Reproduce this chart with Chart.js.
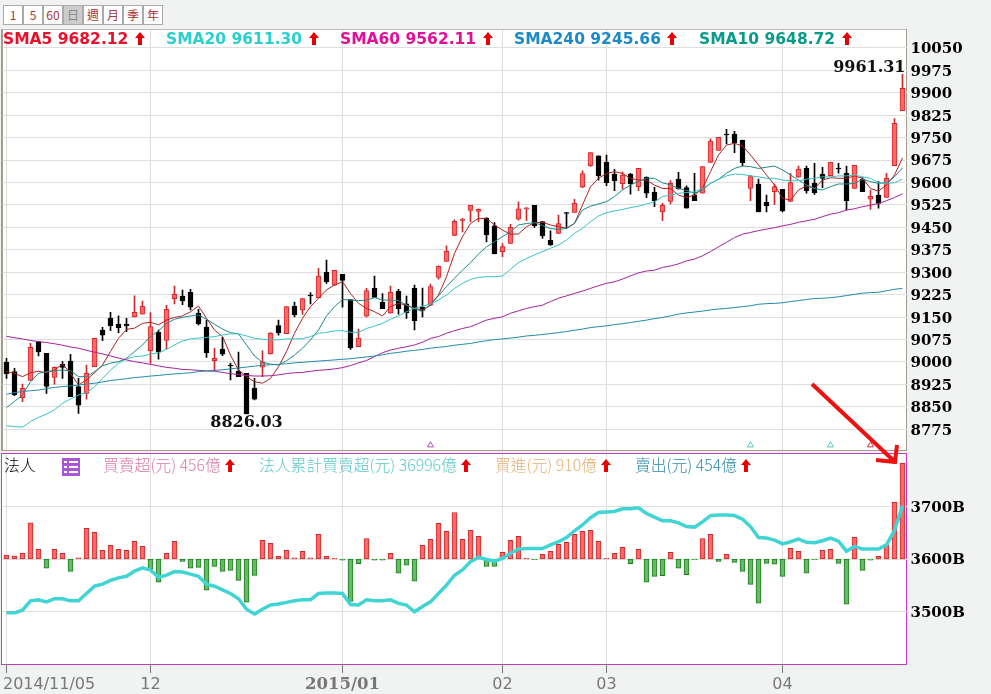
<!DOCTYPE html>
<html>
<head>
<meta charset="utf-8">
<title>加權指數 日K</title>
<script src="https://cdn.jsdelivr.net/npm/chart.js"></script>
<style>
html, body { margin: 0; padding: 0; background: #f1f3f3; overflow: hidden; }
#page { position: relative; width: 991px; height: 694px; }
#page > * { position: absolute; }
.btn { top: 5px; width: 18px; height: 18px; line-height: 18px; border: 1px solid #aaa; background: #fff; color: #a33; font: 12px/18px "Noto Sans CJK TC", sans-serif; text-align: center; }
.btn.on { background: #ccc; color: #888; }
#priceBox { left: 1px; top: 29px; width: 903px; height: 420px; background: #fff; border: 1px solid #a49a8e; border-left-width: 2px; border-top-color: #bbb; }
#flowBox { left: 1px; top: 453px; width: 904px; height: 210px; background: #fff; border: 1px solid #c23cc2; }
canvas { left: 0; }
.sma { top: 30px; font: bold 15.5px/18px "DejaVu Sans", sans-serif; white-space: nowrap; }
.flow { top: 456px; font: 15.8px/18px "Noto Sans CJK TC", sans-serif; font-weight: 300; white-space: nowrap; }
.up { display: inline-block; width: 10px; height: 13px; margin-left: 1px; vertical-align: -1px; }
</style>
</head>
<body>
<svg width="0" height="0" style="position:absolute">
    <symbol id="upArrow" viewBox="0 0 10 13"><path d="M5 0L10 6H7V13H3V6H0Z" fill="#e80000"/></symbol>
</svg>
<div id="page">
    <div class="btn" style="left:3px">1</div>
    <div class="btn" style="left:23px">5</div>
    <div class="btn" style="left:43px">60</div>
    <div class="btn on" style="left:63px">日</div>
    <div class="btn" style="left:83px">週</div>
    <div class="btn" style="left:103px">月</div>
    <div class="btn" style="left:123px">季</div>
    <div class="btn" style="left:143px">年</div>

    <div id="priceBox"></div>
    <div id="flowBox"></div>
    <canvas id="priceChart" width="991" height="451" style="top:0"></canvas>
    <canvas id="flowChart" width="991" height="244" style="top:450px"></canvas>

    <!-- SMA legend -->
    <div class="sma" style="left:3px;color:#e8102a">SMA5 9682.12 <svg class="up"><use href="#upArrow"/></svg></div>
    <div class="sma" style="left:166px;color:#2bcfcf">SMA20 9611.30 <svg class="up"><use href="#upArrow"/></svg></div>
    <div class="sma" style="left:340px;color:#e0109a">SMA60 9562.11 <svg class="up"><use href="#upArrow"/></svg></div>
    <div class="sma" style="left:514px;color:#1a8ac8">SMA240 9245.66 <svg class="up"><use href="#upArrow"/></svg></div>
    <div class="sma" style="left:699px;color:#0a9a8a">SMA10 9648.72 <svg class="up"><use href="#upArrow"/></svg></div>

    <!-- flow legend -->
    <div class="flow" style="left:4px;color:#000">法人</div>
    <svg style="left:62px;top:458px" width="18" height="18">
        <rect width="18" height="18" fill="#a855d8"/>
        <path d="M2 4h3M7 4h9M2 9h3M7 9h9M2 14h3M7 14h9" stroke="#fff" stroke-width="2"/>
    </svg>
    <div class="flow" style="left:103px;color:#d87aa8">買賣超(元) 456億 <svg class="up"><use href="#upArrow"/></svg></div>
    <div class="flow" style="left:259px;color:#5cc8c8">法人累計買賣超(元) 36996億 <svg class="up"><use href="#upArrow"/></svg></div>
    <div class="flow" style="left:495px;color:#e0b070">買進(元) 910億 <svg class="up"><use href="#upArrow"/></svg></div>
    <div class="flow" style="left:635px;color:#2a8aa8">賣出(元) 454億 <svg class="up"><use href="#upArrow"/></svg></div>

    <!-- hand drawn arrow on the picture -->
    <svg style="left:0;top:0;pointer-events:none" width="991" height="694">
        <path d="M812 384L894 461M897 445L895 462L876 460" fill="none" stroke="#f01010" stroke-width="4"/>
    </svg>
</div>

<script>
// axis labels
const tickIndex = [0, 18, 42, 62, 75, 97];
const tickLabels = ['2014/11/05', '12', '2015/01', '02', '03', '04'];
const priceTicks = [10050, 9975, 9900, 9825, 9750, 9675, 9600, 9525, 9450, 9375, 9300, 9225, 9150, 9075, 9000, 8925, 8850, 8775];
const flowTicks = [3700, 3600, 3500];

// candles
const highs = [9012,8979,8926,9062,9068,9029,8984,9001,9026,8945,8990,9079,9116,9166,9154,9146,9221,9204,9165,9107,9189,9254,9240,9243,9176,9140,9046,9082,8996,9033,8962,8945,9037,9098,9140,9185,9200,9213,9232,9313,9341,9306,9293,9209,9110,9246,9287,9229,9254,9243,9220,9257,9247,9260,9321,9388,9475,9480,9524,9512,9483,9466,9396,9460,9535,9516,9524,9469,9438,9491,9500,9544,9639,9700,9689,9692,9644,9636,9631,9647,9619,9584,9530,9606,9634,9589,9631,9653,9746,9751,9778,9771,9742,9624,9611,9558,9595,9577,9631,9655,9655,9664,9651,9667,9664,9655,9657,9616,9575,9603,9631,9814,9961.31];
const opens = [8999,8968,8881,8938,9068,9029,8948,8993,9003,8918,8895,8984,9107,9146,9126,9126,9151,9160,9038,9099,9072,9212,9220,9233,9163,9117,9004,9043,8990,8970,8962,8913,8983,9028,9122,9095,9186,9173,9224,9215,9300,9257,9293,9209,9051,9153,9246,9199,9163,9236,9194,9247,9183,9190,9283,9336,9423,9473,9507,9503,9480,9455,9369,9396,9477,9511,9524,9469,9407,9430,9499,9500,9584,9656,9689,9667,9628,9596,9628,9586,9617,9567,9502,9537,9611,9583,9559,9564,9667,9707,9762,9762,9742,9580,9595,9534,9569,9577,9537,9618,9647,9597,9627,9623,9648,9631,9580,9611,9544,9557,9550,9656,9840];
const closes = [8961,8891,8912,9049,9034,8918,8982,8982,8884,8856,8962,9079,9090,9121,9115,9121,9166,9186,9118,9033,9176,9226,9204,9183,9127,9030,9012,9026,8987,8951,8826,8876,9000,9096,9097,9185,9157,9212,9221,9287,9268,9306,9273,9047,9080,9239,9216,9178,9233,9178,9165,9138,9172,9252,9320,9370,9470,9478,9524,9510,9425,9362,9386,9450,9512,9515,9456,9421,9391,9463,9497,9530,9630,9700,9623,9599,9606,9625,9596,9647,9564,9539,9524,9597,9579,9514,9539,9653,9738,9751,9759,9733,9666,9620,9502,9522,9586,9505,9600,9644,9573,9566,9614,9667,9645,9539,9657,9569,9554,9530,9614,9798,9915];
const lows = [8945,8887,8867,8938,9020,8895,8926,8945,8884,8828,8876,8984,9071,9105,9098,9101,9151,9160,8995,9009,9043,9194,9192,9174,9124,9015,8971,9021,8940,8951,8826,8873,8951,9026,9090,9095,9151,9159,9194,9215,9263,9257,9183,9042,9051,9151,9216,9178,9163,9160,9146,9107,9151,9188,9277,9336,9422,9435,9469,9469,9401,9361,9352,9396,9474,9472,9450,9413,9390,9429,9447,9500,9583,9654,9608,9589,9573,9578,9561,9573,9549,9519,9472,9528,9578,9514,9539,9564,9667,9707,9729,9700,9655,9539,9502,9502,9526,9502,9537,9617,9564,9560,9583,9623,9631,9508,9580,9569,9510,9514,9550,9656,9840];

// moving averages
const sma5 = [8968,8962,8951,8964,8969,8964,8973,8993,8962,8923,8940,8964,8990,9035,9079,9109,9113,9129,9133,9124,9140,9149,9154,9168,9187,9146,9107,9085,9023,8973,8951,8934,8929,8945,8984,9035,9096,9146,9185,9213,9241,9257,9268,9229,9196,9179,9168,9154,9185,9196,9190,9179,9174,9190,9224,9285,9363,9419,9463,9480,9480,9458,9441,9427,9428,9452,9466,9467,9458,9452,9447,9463,9525,9586,9614,9630,9636,9630,9614,9608,9608,9591,9580,9580,9558,9550,9558,9580,9636,9692,9725,9731,9722,9692,9659,9625,9592,9547,9541,9575,9588,9580,9608,9616,9614,9614,9622,9614,9580,9571,9592,9625,9682];
const sma10 = [8848,8868,8890,8934,8962,8968,8971,8973,8971,8951,8951,8968,8987,8996,9001,9012,9035,9057,9085,9104,9129,9143,9149,9154,9157,9143,9126,9110,9098,9094,9057,9020,8999,8993,8990,9004,9023,9046,9074,9107,9154,9185,9209,9207,9205,9207,9215,9207,9207,9205,9190,9179,9168,9194,9221,9252,9280,9307,9332,9361,9385,9402,9419,9435,9458,9463,9466,9456,9446,9443,9447,9463,9508,9521,9528,9536,9553,9575,9592,9603,9614,9614,9599,9592,9580,9573,9564,9575,9597,9611,9631,9647,9655,9653,9647,9651,9655,9642,9625,9608,9592,9580,9575,9586,9595,9595,9597,9611,9603,9597,9599,9619,9649];
const sma20 = [8787,8784,8782,8801,8815,8826,8840,8862,8876,8890,8897,8917,8945,8973,8996,9010,9018,9020,9026,9031,9042,9057,9070,9077,9080,9082,9085,9090,9094,9094,9087,9079,9076,9074,9074,9077,9077,9078,9085,9096,9099,9104,9105,9099,9099,9112,9120,9129,9143,9154,9168,9179,9187,9193,9207,9224,9246,9263,9276,9283,9285,9285,9287,9310,9332,9346,9358,9369,9380,9391,9408,9430,9447,9469,9488,9499,9505,9510,9516,9521,9528,9536,9553,9558,9564,9566,9569,9580,9597,9611,9622,9628,9627,9622,9619,9614,9614,9608,9606,9606,9611,9614,9619,9619,9622,9622,9625,9619,9614,9599,9597,9599,9611];
const sma60 = [9086,9081,9077,9072,9068,9065,9061,9056,9050,9046,9039,9033,9027,9020,9013,9007,9001,8997,8992,8987,8982,8979,8975,8974,8972,8970,8969,8965,8961,8958,8955,8953,8953,8954,8957,8961,8964,8965,8969,8972,8974,8977,8981,8988,8997,9005,9018,9031,9040,9046,9051,9057,9066,9079,9085,9096,9105,9112,9118,9129,9140,9146,9151,9163,9171,9179,9185,9190,9202,9213,9221,9229,9237,9246,9255,9263,9268,9277,9288,9298,9304,9307,9316,9321,9328,9338,9344,9355,9369,9385,9400,9416,9427,9433,9439,9444,9449,9455,9460,9467,9472,9477,9486,9494,9499,9508,9512,9519,9524,9530,9539,9550,9562];
const sma240 = [8892,8898,8901,8904,8906,8911,8915,8918,8920,8923,8926,8929,8933,8938,8941,8944,8948,8950,8953,8955,8958,8960,8962,8964,8968,8970,8972,8974,8977,8980,8983,8986,8989,8991,8992,8994,8997,8999,9001,9003,9005,9007,9009,9011,9014,9017,9020,9024,9029,9032,9036,9039,9042,9046,9049,9052,9056,9059,9062,9067,9071,9075,9077,9080,9083,9087,9089,9092,9095,9098,9102,9106,9110,9115,9118,9121,9125,9128,9132,9136,9140,9145,9149,9154,9160,9164,9167,9170,9174,9177,9179,9182,9185,9188,9193,9195,9196,9198,9202,9205,9209,9212,9213,9215,9218,9222,9226,9230,9232,9233,9238,9243,9246];

// small signal marks along the bottom of the price pane
const markerIndex = [53, 93, 103, 108];
const markerValue = 8722;
const markerColors = ['#b050c0', '#50c8c8', '#50c8c8', '#c04040'];

// 買賣超 (億) and 法人累計 (B)
const netFlow = [19,14,27,172,46,-44,46,27,-59,5,146,127,41,65,46,41,84,60,-48,-111,27,84,-11,-44,-40,-149,-35,-59,-54,-102,-206,-78,89,75,13,41,5,37,5,118,13,3,-5,-203,-22,98,-5,-5,27,-68,-30,-106,65,94,170,132,222,94,137,108,-35,-35,32,89,108,3,-3,22,37,70,79,118,132,137,84,3,27,56,-22,46,-111,-83,-79,32,-44,-75,-3,98,118,-11,22,-16,-59,-121,-211,-21,-25,-83,51,37,-68,-3,41,46,-21,-216,103,-54,-6,13,67,270,456];
const cumFlow = [3497,3497,3502,3520,3522,3518,3524,3524,3520,3520,3534,3548,3552,3559,3564,3567,3577,3583,3579,3565,3569,3576,3575,3571,3567,3552,3548,3541,3534,3524,3504,3495,3504,3512,3514,3517,3520,3522,3522,3534,3535,3535,3534,3513,3512,3522,3520,3520,3522,3515,3512,3499,3509,3518,3534,3550,3569,3579,3595,3603,3599,3596,3601,3611,3619,3620,3620,3620,3627,3633,3641,3654,3665,3679,3689,3690,3691,3696,3696,3698,3687,3680,3673,3673,3669,3662,3661,3671,3683,3684,3684,3683,3676,3662,3641,3640,3636,3629,3633,3638,3632,3631,3635,3640,3634,3615,3624,3619,3619,3619,3627,3655,3702];

const labels = closes.map((c, i) => i);
const gridColor = '#dedede';
const axisFont = { family: 'DejaVu Serif', size: 15, weight: 'bold' };

function smaLine(data, color) {
    return { type: 'line', data: data, borderColor: color, borderWidth: 1, pointRadius: 0, order: 1 };
}

function xAxis(tickLen) {
    return {
        offset: true,
        grid: { offset: false, color: gridColor, tickColor: '#777', tickLength: tickLen, drawTicks: tickLen > 0 },
        border: { display: false },
        ticks: { display: false },
        afterBuildTicks: s => { s.ticks = tickIndex.map(v => ({ value: v })); },
        afterFit: s => { s.height = tickLen; }
    };
}

function yAxis(values, suffix) {
    return {
        position: 'right',
        grid: { color: gridColor, drawTicks: false },
        border: { display: false },
        ticks: { color: '#000', font: axisFont, padding: 4, labelOffset: 1.5, crossAlign: 'near', autoSkip: false, callback: v => v + suffix },
        afterBuildTicks: s => { s.ticks = values.map(v => ({ value: v })); },
        // the label overhang must not shrink the plot area
        afterFit: s => { s.width = 84.5; s.paddingTop = 0; s.paddingBottom = 0; }
    };
}

// writes the highest and lowest price next to their candles
const extremes = {
    id: 'extremes',
    afterDraw(chart) {
        const { ctx, scales: { x, y } } = chart;
        const top = highs.indexOf(Math.max(...highs));
        const bottom = lows.indexOf(Math.min(...lows));
        ctx.save();
        ctx.fillStyle = '#111';
        ctx.font = 'bold 16px "DejaVu Serif"';
        ctx.textBaseline = 'middle';
        ctx.textAlign = 'right';
        ctx.fillText(highs[top].toFixed(2), x.getPixelForValue(top) + 3, y.getPixelForValue(highs[top]) - 7);
        ctx.textAlign = 'center';
        ctx.fillText('8826.03', x.getPixelForValue(bottom), y.getPixelForValue(lows[bottom]) + 9);
        ctx.restore();
    }
};

// date labels under the lower pane, the first one starts at the left edge
const dateLabels = {
    id: 'dateLabels',
    afterDraw(chart) {
        const { ctx, scales: { x } } = chart;
        ctx.save();
        ctx.fillStyle = '#777';
        ctx.textBaseline = 'middle';
        tickLabels.forEach((text, i) => {
            ctx.font = text === '2015/01' ? 'bold 16.5px "DejaVu Serif"' : '16px "DejaVu Sans"';
            ctx.textAlign = i === 0 ? 'left' : 'center';
            ctx.fillText(text, i === 0 ? 3 : x.getPixelForValue(tickIndex[i]), 235);
        });
        ctx.restore();
    }
};

new Chart(document.getElementById('priceChart'), {
    type: 'bar',
    data: {
        labels: labels,
        datasets: [
            {
                data: labels.map(i => [lows[i], highs[i]]),
                backgroundColor: labels.map(i => closes[i] >= opens[i] ? '#cc2a2a' : '#000'),
                barThickness: 1, order: 4
            },
            {
                data: labels.map(i => [Math.min(opens[i], closes[i]), Math.max(opens[i], closes[i])]),
                backgroundColor: labels.map(i => closes[i] >= opens[i] ? '#ff6666' : '#000'),
                borderColor: labels.map(i => closes[i] >= opens[i] ? '#d0282c' : '#000'),
                borderWidth: 1, borderSkipped: false, barThickness: 5, order: 3
            },
            smaLine(sma240, '#1f8aaa'),
            smaLine(sma60, '#a8209a'),
            smaLine(sma20, '#35c4c4'),
            smaLine(sma10, '#1a8a8a'),
            smaLine(sma5, '#b02020'),
            {
                type: 'line',
                data: labels.map(i => markerIndex.includes(i) ? markerValue : null),
                showLine: false,
                pointStyle: 'triangle',
                pointRadius: 3.5,
                pointBackgroundColor: 'rgba(0,0,0,0)',
                pointBorderWidth: 1,
                pointBorderColor: labels.map(i => markerColors[markerIndex.indexOf(i)] || '#000'),
                order: 2
            }
        ]
    },
    options: {
        responsive: false,
        animation: false,
        layout: { autoPadding: false, padding: { left: 2.5, top: 30, bottom: 1 } },
        datasets: { bar: { grouped: false } },
        plugins: { legend: { display: false }, tooltip: { enabled: false } },
        scales: {
            x: xAxis(0),
            y: Object.assign(yAxis(priceTicks, ''), { min: 8705.8, max: 10109.7 })
        }
    },
    plugins: [extremes]
});

new Chart(document.getElementById('flowChart'), {
    type: 'bar',
    data: {
        labels: labels,
        datasets: [
            {
                data: netFlow,
                yAxisID: 'yBar',
                backgroundColor: netFlow.map(v => v >= 0 ? '#ff6666' : '#66bb66'),
                borderColor: netFlow.map(v => v >= 0 ? '#c82a2a' : '#1a7a1a'),
                borderWidth: 1, borderSkipped: false, barThickness: 5, order: 2
            },
            {
                type: 'line', data: cumFlow, yAxisID: 'y',
                borderColor: '#40d4d4', borderWidth: 3.5, pointRadius: 0, order: 1
            }
        ]
    },
    options: {
        responsive: false,
        animation: false,
        layout: { autoPadding: false, padding: { left: 2.5, top: 4, bottom: 21 } },
        plugins: { legend: { display: false }, tooltip: { enabled: false } },
        scales: {
            x: xAxis(9),
            y: Object.assign(yAxis(flowTicks, 'B'), { min: 3399.2, max: 3800.8 }),
            yBar: { display: false, min: -501, max: 501 }
        }
    },
    plugins: [dateLabels]
});
</script>
</body>
</html>
